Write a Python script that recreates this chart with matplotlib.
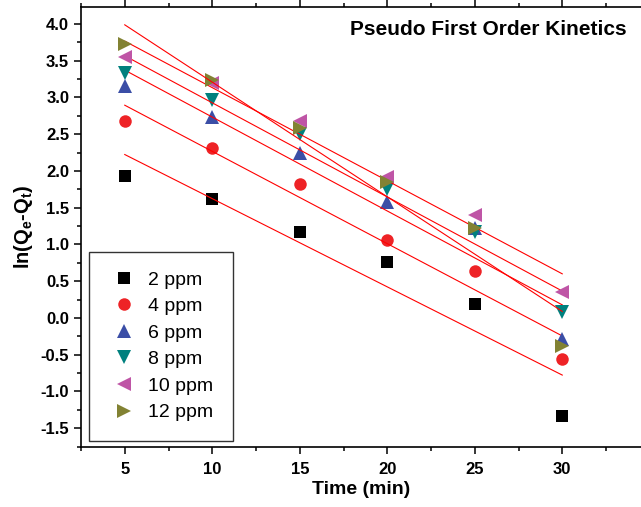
import numpy as np
import matplotlib
matplotlib.use('Agg')
import matplotlib.pyplot as plt
from matplotlib.ticker import MultipleLocator

plt.rcParams['font.family'] = ['Liberation Sans', 'DejaVu Sans']
plt.rcParams['mathtext.default'] = 'regular'
plt.rcParams['axes.unicode_minus'] = False

time = [5, 10, 15, 20, 25, 30]
labels = ['2 ppm', '4 ppm', '6 ppm', '8 ppm', '10 ppm', '12 ppm']
ppm2 = [1.93, 1.62, 1.17, 0.76, 0.19, -1.33]
ppm4 = [2.68, 2.31, 1.82, 1.06, 0.64, -0.56]
ppm6 = [3.15, 2.73, 2.25, 1.58, 1.22, -0.28]
ppm8 = [3.33, 2.97, 2.50, 1.75, 1.17, 0.08]
ppm10 = [3.55, 3.20, 2.68, 1.92, 1.40, 0.35]
ppm12 = [3.72, 3.24, 2.58, 1.85, 1.22, -0.38]
series = [ppm2, ppm4, ppm6, ppm8, ppm10, ppm12]

markers = ['s', 'o', '^', 'v', '<', '>']
sizes = [8, 9, 10, 10, 10, 10]
colors = ['black', '#EE2326', '#3B4EA6', '#00807E', '#BF55A6', '#828233']

fig = plt.figure(figsize=(6.41, 5.07), dpi=100)
ax = fig.add_axes([81 / 641, 60 / 507, 560 / 641, 440 / 507])

x = np.array(time, dtype=float)
for vals, lab, m, s, c in zip(series, labels, markers, sizes, colors):
    ax.plot(x, vals, linestyle='none', marker=m, markersize=s, color=c,
            markeredgewidth=0, label=lab)
    # linear fit line
    k, b = np.polyfit(x, vals, 1)
    ax.plot([x[0], x[-1]], [k * x[0] + b, k * x[-1] + b], color='red', lw=0.8)

ax.set_xlim(2.5, 34.5)
ax.set_ylim(-1.755, 4.23)
ax.xaxis.set_major_locator(MultipleLocator(5))
ax.xaxis.set_minor_locator(MultipleLocator(2.5))
ax.yaxis.set_major_locator(MultipleLocator(0.5))
ax.yaxis.set_minor_locator(MultipleLocator(0.25))
ax.spines['right'].set_visible(False)
for sp in ['left', 'bottom', 'top']:
    ax.spines[sp].set_linewidth(1.2)
ax.tick_params(which='both', direction='out', right=False, width=1.1)
ax.tick_params(which='major', length=5)
ax.tick_params(which='minor', length=3)
ax.tick_params(axis='x', which='both', top=True, labeltop=False, pad=6)
for t in ax.get_xticklabels() + ax.get_yticklabels():
    t.set_fontweight('bold')
    t.set_fontsize(12)

ax.set_xlabel('Time (min)', fontsize=14, fontweight='bold', labelpad=3)
ax.set_ylabel('ln(Q$_e$-Q$_t$)', fontsize=14.5, fontweight='bold', labelpad=4)

ax.text(0.975, 0.95, 'Pseudo First Order Kinetics', transform=ax.transAxes,
        ha='right', va='center', fontsize=15, fontweight='bold')

leg = ax.legend(loc='lower left', bbox_to_anchor=(0.014, 0.014), borderaxespad=0,
                fontsize=14, frameon=True, fancybox=False, edgecolor='black',
                handletextpad=0.45, labelspacing=0.46, borderpad=1.0,
                handlelength=1.6)
leg.get_frame().set_linewidth(1.0)

fig.savefig('out.png', dpi=100)
